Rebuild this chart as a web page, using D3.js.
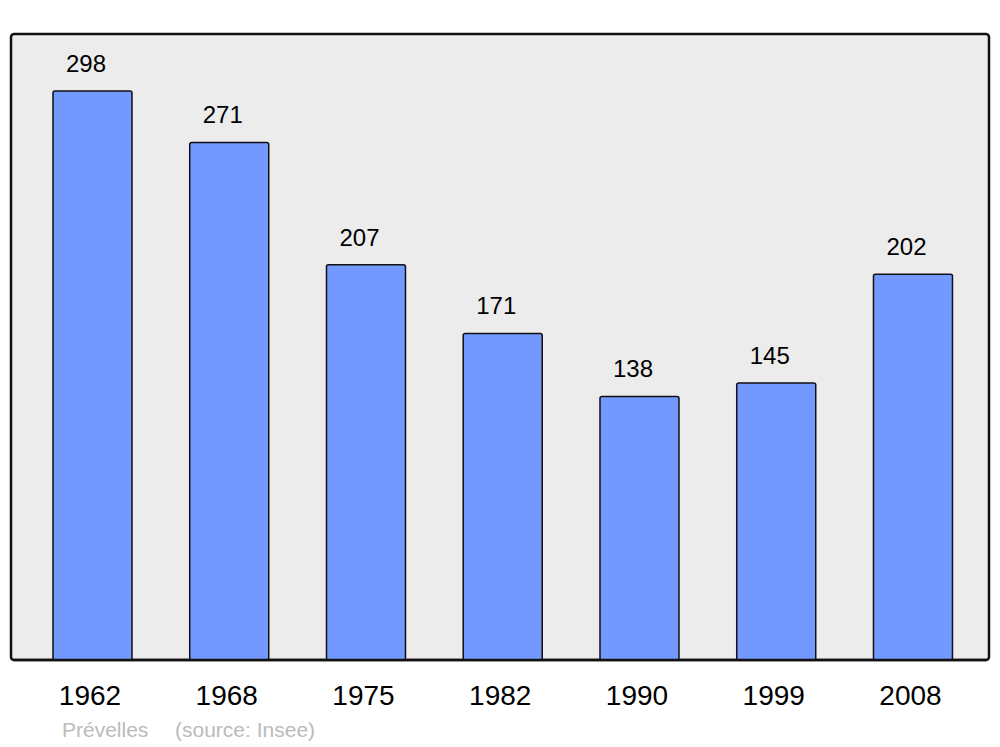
<!DOCTYPE html>
<html>
<head>
<meta charset="utf-8">
<script src="https://cdn.jsdelivr.net/npm/d3@7"></script>
<style>
html,body{margin:0;padding:0;background:#fff;}
svg{display:block;font-family:"Liberation Sans",Arial,sans-serif;}
</style>
</head>
<body>
<svg id="chart" width="1000" height="747"></svg>
<script>
const years = ["1962","1968","1975","1982","1990","1999","2008"];
const population = [298,271,207,171,138,145,202];
const place = "Prévelles";
const source = "(source: Insee)";

const svg = d3.select("#chart");
const panel = {left:11, top:34, right:989, bottom:660};

svg.append("rect")
  .attr("x", panel.left).attr("y", panel.top)
  .attr("width", panel.right - panel.left).attr("height", panel.bottom - panel.top)
  .attr("rx", 3).attr("ry", 3)
  .attr("fill", "#ececec").attr("stroke", "#111").attr("stroke-width", 2.5);

const step = 136.75;
const x = d3.scaleBand()
  .domain(years)
  .range([11, 11 + step * (7 - 0.4223 + 2 * 0.307)])
  .paddingInner(0.4223)
  .paddingOuter(0.307);

const y = d3.scaleLinear()
  .domain([0, 298 * 1.1])
  .range([panel.bottom, panel.top]);

const data = years.map((yr, i) => ({year: yr, value: population[i]}));

svg.selectAll("rect.bar").data(data).enter().append("rect")
  .attr("class", "bar")
  .attr("x", d => x(d.year))
  .attr("y", d => y(d.value))
  .attr("width", x.bandwidth())
  .attr("height", d => panel.bottom - y(d.value))
  .attr("rx", 2).attr("ry", 2)
  .attr("fill", "#7399ff").attr("stroke", "#111").attr("stroke-width", 1.5);

// redraw panel bottom line over bars
svg.append("line")
  .attr("x1", panel.left + 3).attr("x2", panel.right - 3)
  .attr("y1", panel.bottom).attr("y2", panel.bottom)
  .attr("stroke", "#111").attr("stroke-width", 2.5);

svg.selectAll("text.val").data(data).enter().append("text")
  .attr("class", "val")
  .attr("x", d => x(d.year) + x.bandwidth() / 2 - 6.5)
  .attr("y", d => y(d.value) - 19)
  .attr("text-anchor", "middle")
  .attr("font-size", 24).attr("fill", "#000")
  .text(d => d.value);

const xAxis = d3.axisBottom(x).tickSize(0).tickPadding(0);
const gx = svg.append("g")
  .attr("transform", `translate(0,${panel.bottom})`)
  .call(xAxis);
gx.select(".domain").remove();
gx.selectAll("text")
  .attr("dy", null)
  .attr("x", -2.5)
  .attr("y", 45)
  .attr("font-size", 28)
  .attr("font-family", "Liberation Sans, Arial, sans-serif")
  .attr("fill", "#000");

svg.append("text").attr("x", 62).attr("y", 737)
  .attr("font-size", 21).attr("fill", "#bbb").text(place);
svg.append("text").attr("x", 175).attr("y", 737)
  .attr("font-size", 21).attr("fill", "#bbb").text(source);
</script>
</body>
</html>
